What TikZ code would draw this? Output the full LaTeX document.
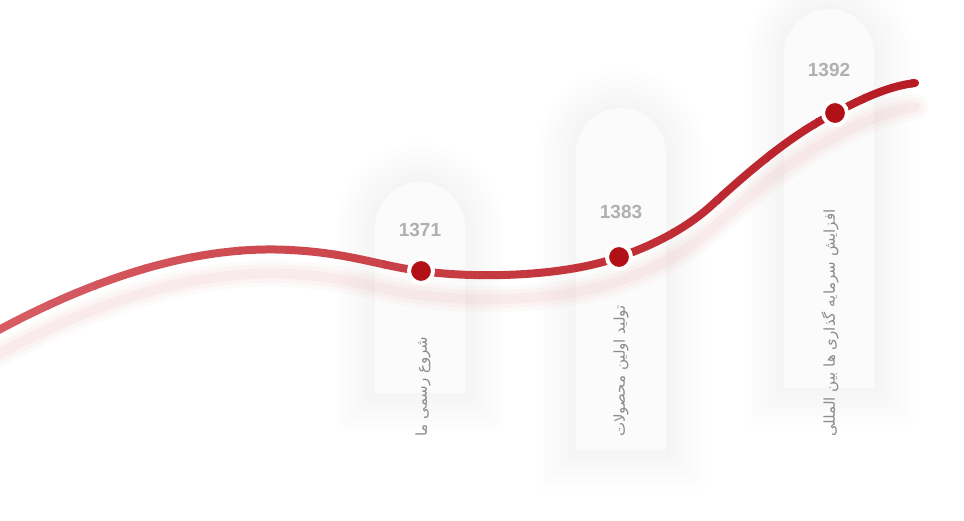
\documentclass[tikz,border=0pt]{standalone}
\usepackage{fontspec}
\setmainfont{Liberation Sans}
\newfontfamily\farsifont[Script=Arabic]{DejaVu Sans}
\TeXXeTstate=1
\definecolor{redlight}{RGB}{214,92,98}
\definecolor{reddark}{RGB}{180,22,30}
\definecolor{dotred}{RGB}{176,16,22}
\definecolor{shadowpink}{RGB}{222,96,108}
\definecolor{pillfill}{RGB}{251,251,251}
\definecolor{yeargray}{RGB}{176,176,176}
\definecolor{textgray}{RGB}{140,140,140}

\tikzset{
  yearlabel/.style={font=\bfseries\fontsize{19}{19}\selectfont, text=yeargray, inner sep=0pt},
  caption/.style={rotate=90, anchor=west, font=\farsifont\fontsize{15}{15}\selectfont, text=textgray, inner sep=0pt},
  eventdot/.style={circle, fill=dotred, draw=white, line width=4pt, minimum size=24pt, inner sep=0pt},
}

% pill: left x, right x, top y, bottom y, grow
\newcommand{\pillpath}[5]{(#1-#5,#4-#5) -- (#1-#5,#3-45) arc[start angle=180, end angle=0, radius=45+#5] -- (#2+#5,#4-#5) -- cycle}

\def\timeline{(-5,188) .. controls (100,245) and (200,275) .. (290,270)
  .. controls (350,267) and (380,254) .. (421,249)
  .. controls (470,242) and (560,242) .. (619,263)
  .. controls (660,277) and (690,295) .. (712,315)
  .. controls (745,345) and (790,385) .. (835,407)
  .. controls (865,423) and (890,434) .. (915,437)}

\begin{document}
\begin{tikzpicture}[x=1pt, y=1pt]

% 1. BACKGROUND
\fill[white] (0,0) rectangle (964,520);
\useasboundingbox (0,0) rectangle (964,520);

% 2. PILLS WITH SOFT HALO
\foreach \xl/\xr/\yt/\yb in {375/465/338/127, 576/666/412/70, 784/874/511/132} {
    \foreach \g in {4,8,...,40} {
        \fill[black, opacity=0.004] \pillpath{\xl}{\xr}{\yt}{\yb}{\g};
    }
    \fill[pillfill] \pillpath{\xl}{\xr}{\yt}{\yb}{0};
}

% 3. CURVE SHADOW
\begin{scope}[yshift=-24pt]
\foreach \w/\o in {26/0.03, 18/0.04, 10/0.05} {
    \draw[shadowpink, line width=\w pt, opacity=\o, line cap=round] \timeline;
}
\end{scope}

% 4. RED CURVE (left light, right dark)
\foreach \x in {0,48,...,912} {
    \pgfmathsetmacro{\p}{100-\x/9.6}
    \begin{scope}
    \clip (\x-1,0) rectangle (\x+49,520);
    \draw[redlight!\p!reddark, line width=8pt, line cap=round] \timeline;
    \end{scope}
}

% 5. EVENTS
\node[eventdot] (d1371) at (421,249) {};
\node[eventdot] (d1383) at (619,263) {};
\node[eventdot] (d1392) at (835,407) {};

\node[yearlabel] (y1371) at (420,290) {1371};
\node[yearlabel] (y1383) at (621,308) {1383};
\node[yearlabel] (y1392) at (829,450) {1392};

\node[caption] (c1371) at (423,83) {\beginR شروع رسمی ما\endR};
\node[caption] (c1383) at (621,83) {\beginR تولید اولین محصولات\endR};
\node[caption] (c1392) at (830,83) {\beginR افزایش سرمایه گذاری ها بین المللی\endR};

\end{tikzpicture}
\end{document}
